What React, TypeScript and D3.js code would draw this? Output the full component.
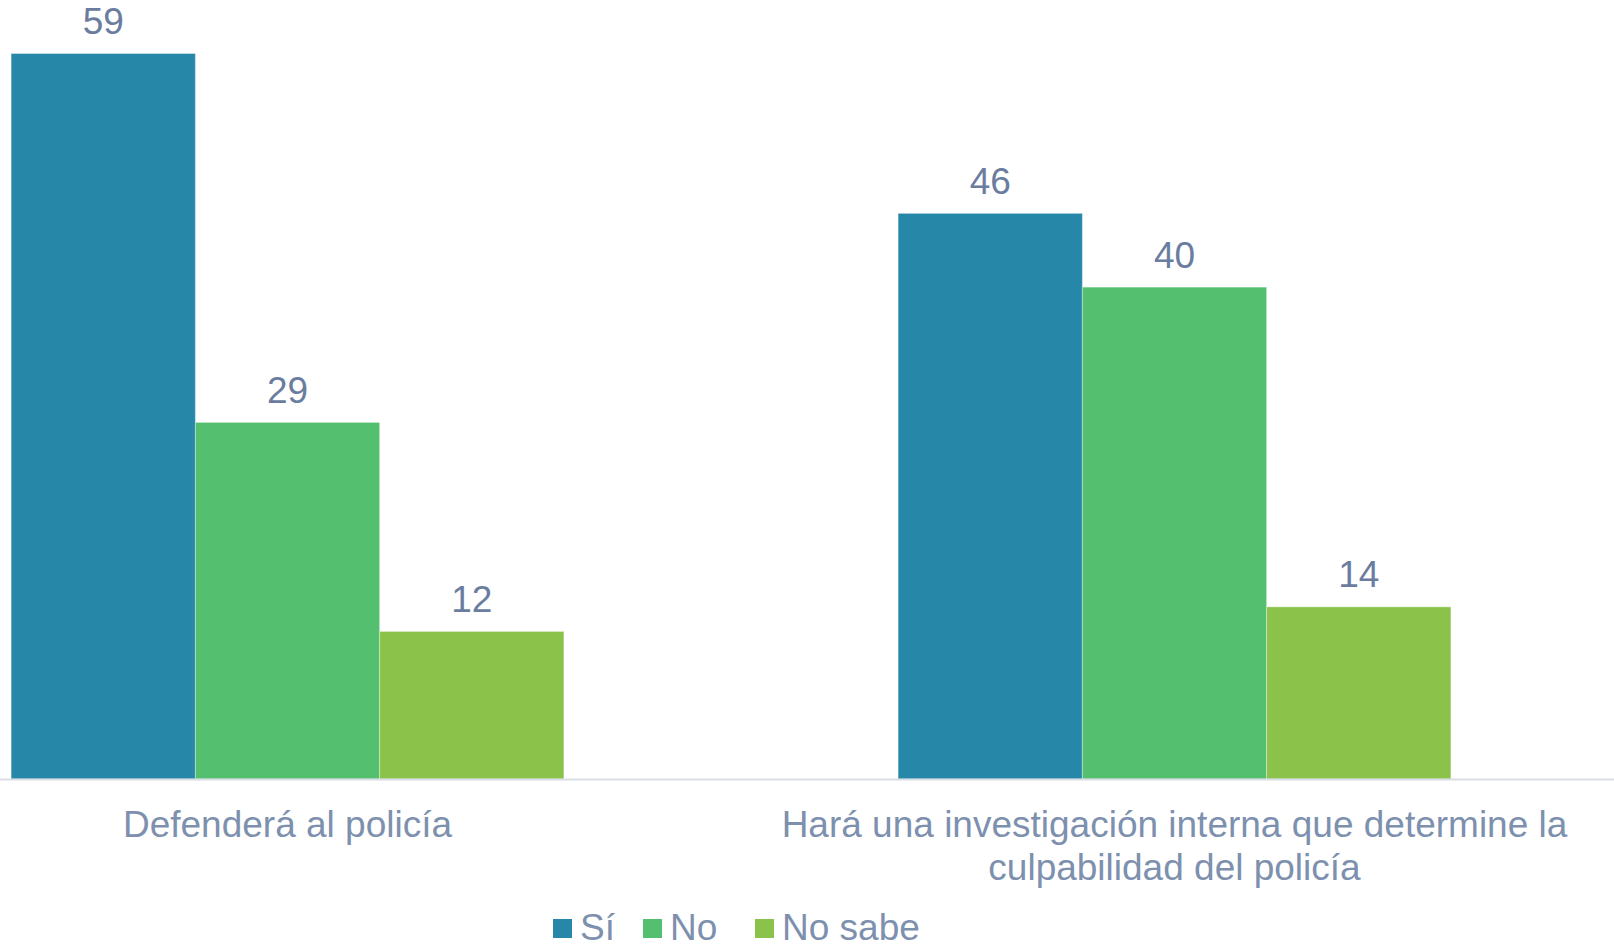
import React from "react";
import * as d3 from "d3";

const categories = ["Defenderá al policía", "Hará una investigación interna que determine la culpabilidad del policía"];
const categoryLines = [["Defenderá al policía"], ["Hará una investigación interna que determine la", "culpabilidad del policía"]];
const seriesNames = ["Sí", "No", "No sabe"];
const siValues = [59, 46];
const noValues = [29, 40];
const noSabeValues = [12, 14];
const seriesColors = ["#2687a8", "#55bf70", "#8bc34a"];

const W = 1614;
const H = 944;
const baseline = 779;
const FONT = "'Liberation Sans', Arial, sans-serif";

export default function App() {
  const seriesValues = [siValues, noValues, noSabeValues];
  const x0 = d3.scaleBand<string>().domain(categories).range([-156, 1618]).padding(0);
  const x1 = d3
    .scaleBand<string>()
    .domain(seriesNames)
    .range([0, x0.bandwidth()])
    .paddingInner(0)
    .paddingOuter(0.907);
  const y = d3.scaleLinear().domain([0, 59]).range([baseline, 53.5]);

  const legendItems = [
    { sq: 553, tx: 580 },
    { sq: 643, tx: 670 },
    { sq: 755, tx: 782 },
  ];

  return (
    <svg
      width={W}
      height={H}
      style={{ position: "absolute", left: 0, top: 0, background: "#fff" }}
      fontFamily={FONT}
    >
      {categories.map((c, ci) => (
        <g key={c} transform={`translate(${x0(c)},0)`}>
          {seriesNames.map((s, si) => {
            const v = seriesValues[si][ci];
            const bx = x1(s)!;
            return (
              <g key={s}>
                <rect
                  x={bx}
                  y={y(v)}
                  width={x1.bandwidth()}
                  height={baseline - y(v)}
                  fill={seriesColors[si]}
                  stroke="#ffffff"
                  strokeOpacity={0.35}
                  strokeWidth={1}
                />
                <text
                  x={bx + x1.bandwidth() / 2}
                  y={y(v) - 19.5}
                  textAnchor="middle"
                  fontSize={37}
                  fill="#6a7d9f"
                >
                  {v}
                </text>
              </g>
            );
          })}
          {categoryLines[ci].map((line, li) => (
            <text
              key={li}
              x={x0.bandwidth() / 2}
              y={837 + li * 43}
              textAnchor="middle"
              fontSize={37}
              fill="#7d90ae"
            >
              {line}
            </text>
          ))}
        </g>
      ))}
      <line x1={0} x2={W} y1={baseline + 0.5} y2={baseline + 0.5} stroke="#d9dee6" strokeWidth={2} />
      {seriesNames.map((s, si) => (
        <g key={s}>
          <rect x={legendItems[si].sq} y={919} width={19} height={19} fill={seriesColors[si]} />
          <text x={legendItems[si].tx} y={940} fontSize={37} fill="#7d90ae">
            {s}
          </text>
        </g>
      ))}
    </svg>
  );
}
